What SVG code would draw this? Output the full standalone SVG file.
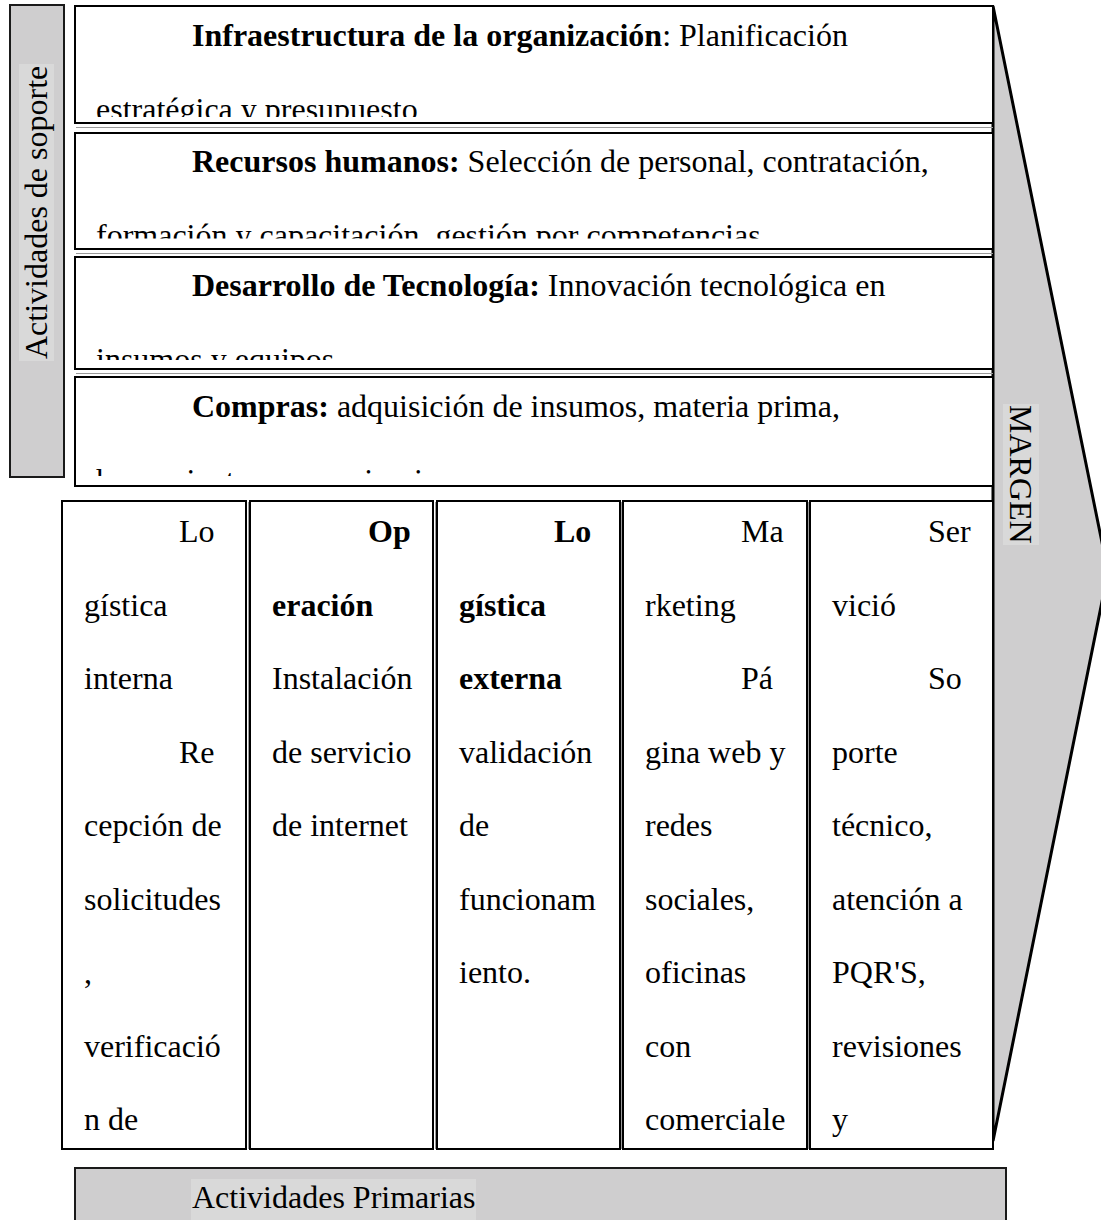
<svg xmlns="http://www.w3.org/2000/svg" width="1101" height="1220" viewBox="0 0 1101 1220">
<style>
  text { font-family: "Liberation Serif", "Times New Roman", serif; font-size: 32px; fill: #000; }
  .b { font-weight: bold; }
  .box { fill: #fff; stroke: #000; stroke-width: 2; }
  .inner { fill: none; stroke: #9a9a9a; stroke-width: 1; }
  .gray { fill: #cfcecf; stroke: #1a1a1a; stroke-width: 2; }
  .hl { fill: #d9d9d9; }
</style>
<defs>
  <clipPath id="c1"><rect x="76" y="7" width="916" height="110"/></clipPath>
  <clipPath id="c2"><rect x="76" y="134" width="916" height="104.5"/></clipPath>
  <clipPath id="c3"><rect x="76" y="259" width="916" height="101"/></clipPath>
  <clipPath id="c4"><rect x="76" y="378" width="916" height="98"/></clipPath>
</defs>
<rect width="1101" height="1220" fill="#fff"/>

<g id="margen">
  <polygon points="993,6 1108,572 993,1141" fill="#cfcecf" stroke="#000" stroke-width="3" stroke-linejoin="miter"/>
  <rect class="hl" x="1003" y="404" width="36" height="141"/>
  <text transform="translate(1010,405) rotate(90)">MARGEN</text>
</g>

<g id="soporte">
  <rect class="gray" x="10" y="5" width="54" height="472"/>
  <rect class="hl" x="19" y="64" width="35" height="297"/>
  <text transform="translate(47,359) rotate(-90)">Actividades de soporte</text>
</g>

<g id="infraestructura">
  <rect class="box" x="75" y="6" width="918" height="117"/>
  <line class="inner" x1="76" y1="127.5" x2="993" y2="127.5"/>
  <g clip-path="url(#c1)">
    <text x="192" y="46"><tspan class="b">Infraestructura de la organización</tspan>: Planificación</text>
    <text x="96" y="119.5">estratégica y presupuesto</text>
  </g>
</g>

<g id="recursos">
  <rect class="box" x="75" y="133" width="918" height="116"/>
  <line class="inner" x1="76" y1="253.5" x2="993" y2="253.5"/>
  <g clip-path="url(#c2)">
    <text x="192" y="172"><tspan class="b">Recursos humanos:</tspan> Selección de personal, contratación,</text>
    <text x="96" y="245.5">formación y capacitación, gestión por competencias</text>
  </g>
</g>

<g id="tecnologia">
  <rect class="box" x="75" y="257" width="918" height="112"/>
  <line class="inner" x1="76" y1="373.5" x2="993" y2="373.5"/>
  <g clip-path="url(#c3)">
    <text x="192" y="296"><tspan class="b">Desarrollo de Tecnología:</tspan> Innovación tecnológica en</text>
    <text x="96" y="369.5">insumos y equipos</text>
  </g>
</g>

<g id="compras">
  <rect class="box" x="75" y="377" width="918" height="109"/>
  <g clip-path="url(#c4)">
    <text x="192" y="417"><tspan class="b">Compras:</tspan> adquisición de insumos, materia prima,</text>
    <text x="96" y="490.5">herramientas y maquinaria</text>
  </g>
</g>

<g id="logistica-interna">
  <rect class="box" x="62" y="501" width="184" height="648"/>
  <line class="inner" x1="248.5" y1="502" x2="248.5" y2="1149"/>
  <text x="179" y="542">Lo</text>
  <text x="84" y="615.5">gística</text>
  <text x="84" y="689">interna</text>
  <text x="179" y="762.5">Re</text>
  <text x="84" y="836">cepción de</text>
  <text x="84" y="909.5">solicitudes</text>
  <text x="84" y="983">,</text>
  <text x="84" y="1056.5">verificació</text>
  <text x="84" y="1130">n de</text>
</g>

<g id="operacion">
  <rect class="box" x="250" y="501" width="183" height="648"/>
  <line class="inner" x1="435.5" y1="502" x2="435.5" y2="1149"/>
  <text class="b" x="368" y="542">Op</text>
  <text class="b" x="272" y="615.5">eración</text>
  <text x="272" y="689">Instalación</text>
  <text x="272" y="762.5">de servicio</text>
  <text x="272" y="836">de internet</text>
</g>

<g id="logistica-externa">
  <rect class="box" x="437" y="501" width="183" height="648"/>
  <line class="inner" x1="621.5" y1="502" x2="621.5" y2="1149"/>
  <text class="b" x="554" y="542">Lo</text>
  <text class="b" x="459" y="615.5">gística</text>
  <text class="b" x="459" y="689">externa</text>
  <text x="459" y="762.5">validación</text>
  <text x="459" y="836">de</text>
  <text x="459" y="909.5">funcionam</text>
  <text x="459" y="983">iento.</text>
</g>

<g id="marketing">
  <rect class="box" x="623" y="501" width="184" height="648"/>
  <line class="inner" x1="808.5" y1="502" x2="808.5" y2="1149"/>
  <text x="741" y="542">Ma</text>
  <text x="645" y="615.5">rketing</text>
  <text x="741" y="689">Pá</text>
  <text x="645" y="762.5">gina web y</text>
  <text x="645" y="836">redes</text>
  <text x="645" y="909.5">sociales,</text>
  <text x="645" y="983">oficinas</text>
  <text x="645" y="1056.5">con</text>
  <text x="645" y="1130">comerciale</text>
</g>

<g id="servicio">
  <rect class="box" x="810" y="501" width="183" height="648"/>
  <text x="928" y="542">Ser</text>
  <text x="832" y="615.5">vició</text>
  <text x="928" y="689">So</text>
  <text x="832" y="762.5">porte</text>
  <text x="832" y="836">técnico,</text>
  <text x="832" y="909.5">atención a</text>
  <text x="832" y="983">PQR'S,</text>
  <text x="832" y="1056.5">revisiones</text>
  <text x="832" y="1130">y</text>
</g>

<g id="primarias">
  <rect class="gray" x="75" y="1168" width="931" height="70"/>
  <rect class="hl" x="191" y="1179" width="285" height="41"/>
  <text x="192" y="1208">Actividades Primarias</text>
</g>

<g id="connectors"></g>
</svg>
